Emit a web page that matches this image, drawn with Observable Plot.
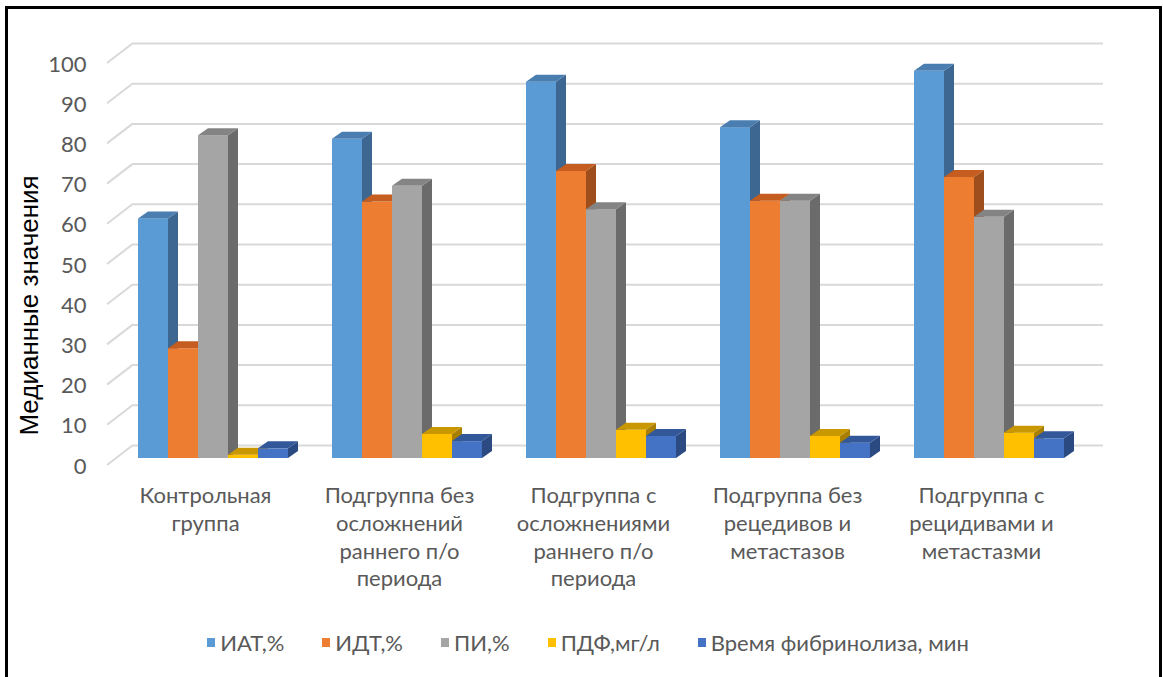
<!DOCTYPE html>
<html>
<head>
<meta charset="utf-8">
<script src="https://cdn.jsdelivr.net/npm/d3@7"></script>
<script src="https://cdn.jsdelivr.net/npm/@observablehq/plot@0.6"></script>
<style>
  html, body { margin: 0; padding: 0; background: #fff; overflow: hidden; }
  #frame {
    position: absolute; left: 5px; top: 6px; width: 1151px; height: 720px;
    border: 3px solid #000; box-sizing: content-box;
  }
  #chart { position: absolute; left: 0; top: 0; }
  #legend {
    position: absolute; left: 0; top: 627px; width: 1176px; height: 30px;
    display: flex; justify-content: center; align-items: center; gap: 38px;
    font-family: Lato, "Open Sans", sans-serif; font-size: 22px; color: #595959;
  }
  #legend .item { display: flex; align-items: center; gap: 5px; }
  #legend .key { width: 8px; height: 9px; display: inline-block; }
</style>
</head>
<body>
<div id="frame"></div>
<div id="chart"></div>
<div id="legend"></div>
<script>
// Группы пациентов (подписи оси категорий, с переносами строк)
const groups = [
  "Контрольная\nгруппа",
  "Подгруппа без\nосложнений\nраннего п/о\nпериода",
  "Подгруппа с\nосложнениями\nраннего п/о\nпериода",
  "Подгруппа без\nрецедивов и\nметастазов",
  "Подгруппа с\nрецидивами и\nметастазми"
];

// Показатели (ряды)
const series = ["ИАТ,%", "ИДТ,%", "ПИ,%", "ПДФ,мг/л", "Время фибринолиза, мин"];

// Медианные значения по группам
const iat   = [59.6, 79.4, 93.6, 82.3, 96.3];
const idt   = [27.3, 63.8, 71.4, 64.0, 69.9];
const pi    = [80.3, 67.7, 61.9, 64.0, 60.0];
const pdf   = [0.8, 6.0, 7.0, 5.5, 6.3];
const fibr  = [2.4, 4.2, 5.5, 3.8, 4.9];

const yTicks = [0, 10, 20, 30, 40, 50, 60, 70, 80, 90, 100];
const yTitle = "Медианные значения";

// Цвета: лицевая грань, верхняя грань, боковая грань
const frontColors = ["#5B9BD5", "#ED7D31", "#A5A5A5", "#FFC000", "#4472C4"];
const topColors   = ["#4A7EB0", "#C45D1F", "#848484", "#C99700", "#33589A"];
const sideColors  = ["#3D6690", "#9E4E1C", "#6B6B6B", "#A87F00", "#2B4A82"];

const seriesValues = [iat, idt, pi, pdf, fibr];
const rows = series.map((s, i) => groups.map((g, j) => ({group: g, series: s, value: seriesValues[i][j]})));

const W = 1163, H = 600;
const BAR = 30;            // ширина столбика
const DX = 10, DY = -7;    // глубина объёмного столбика
const WALL_DX = 17, WALL_DY = -13;   // задняя стенка относительно плоскости столбиков
const FRONT_DX = -9, FRONT_DY = 7;   // передний край пола
const labelFont = 'Lato, "Open Sans", sans-serif';

// Боковая и верхняя грани столбика, построенные по шкалам Plot
function box3d(topColor, sideColor) {
  return (index, scales, values, dimensions, context, next) => {
    const g = next(index, scales, values, dimensions, context);
    const w = scales.x.bandwidth ? scales.x.bandwidth() : BAR;
    const ns = "http://www.w3.org/2000/svg";
    for (const i of index) {
      const x = values.x[i], y1 = values.y1[i], y2 = values.y2[i];
      const top = Math.min(y1, y2), base = Math.max(y1, y2);
      const side = document.createElementNS(ns, "polygon");
      side.setAttribute("points", [
        [x + w, top], [x + w + DX, top + DY], [x + w + DX, base + DY], [x + w, base]
      ].map(p => p.join(",")).join(" "));
      side.setAttribute("fill", sideColor);
      const cap = document.createElementNS(ns, "polygon");
      cap.setAttribute("points", [
        [x, top], [x + DX, top + DY], [x + w + DX, top + DY], [x + w, top]
      ].map(p => p.join(",")).join(" "));
      cap.setAttribute("fill", topColor);
      g.appendChild(side);
      g.appendChild(cap);
    }
    return g;
  };
}

// Диагональные линии сетки на «полу» слева
function floorDiagonals(index, scales, values, dimensions) {
  const ns = "http://www.w3.org/2000/svg";
  const g = document.createElementNS(ns, "g");
  const x0 = dimensions.marginLeft;
  for (const i of index) {
    const y = values.y[i];
    const line = document.createElementNS(ns, "line");
    line.setAttribute("x1", x0 + FRONT_DX);
    line.setAttribute("y1", y + FRONT_DY);
    line.setAttribute("x2", x0 + WALL_DX);
    line.setAttribute("y2", y + WALL_DY);
    line.setAttribute("stroke", "#d9d9d9");
    line.setAttribute("stroke-width", 2);
    g.appendChild(line);
  }
  return g;
}

const barMarks = rows.map((data, i) =>
  Plot.barY(data, {
    x: "group",
    y: "value",
    fill: frontColors[i],
    dx: (i - 2) * BAR,
    render: box3d(topColors[i], sideColors[i])
  })
);

const chart = Plot.plot({
  width: W,
  height: H,
  marginLeft: 116,
  marginRight: 77,
  marginTop: 56,
  marginBottom: 142,
  style: {fontFamily: labelFont, background: "transparent", overflow: "visible", fontVariantNumeric: "tabular-nums"},
  x: {type: "band", domain: groups, paddingInner: 0.8454, paddingOuter: 0.4227, round: false},
  y: {domain: [0, 100]},
  marks: [
    Plot.ruleY(yTicks, {dx: WALL_DX, dy: WALL_DY, stroke: "#d9d9d9", strokeWidth: 2}),
    Plot.ruleY(yTicks, {render: floorDiagonals}),
    Plot.axisY(yTicks, {tickSize: 0, tickPadding: 30, dy: 8, fontSize: 22, fill: "#595959", label: null}),
    Plot.axisX({tickSize: 0, tickPadding: 25, dx: -8, fontSize: 22, lineHeight: 1.26, fill: "#595959", label: null}),
    ...barMarks,
    Plot.text([yTitle], {
      frameAnchor: "left", text: d => d, rotate: -90, dx: -87, dy: 48,
      textAnchor: "middle", lineAnchor: "middle",
      fontSize: 26, fill: "#000", fontFamily: '"Liberation Sans", Arial, sans-serif'
    })
  ]
});
document.getElementById("chart").appendChild(chart);

// Легенда под диаграммой
const legend = document.getElementById("legend");
series.forEach((s, i) => {
  const item = document.createElement("span");
  item.className = "item";
  const key = document.createElement("span");
  key.className = "key";
  key.style.background = frontColors[i];
  const label = document.createElement("span");
  label.textContent = s;
  item.appendChild(key);
  item.appendChild(label);
  legend.appendChild(item);
});
</script>
</body>
</html>
